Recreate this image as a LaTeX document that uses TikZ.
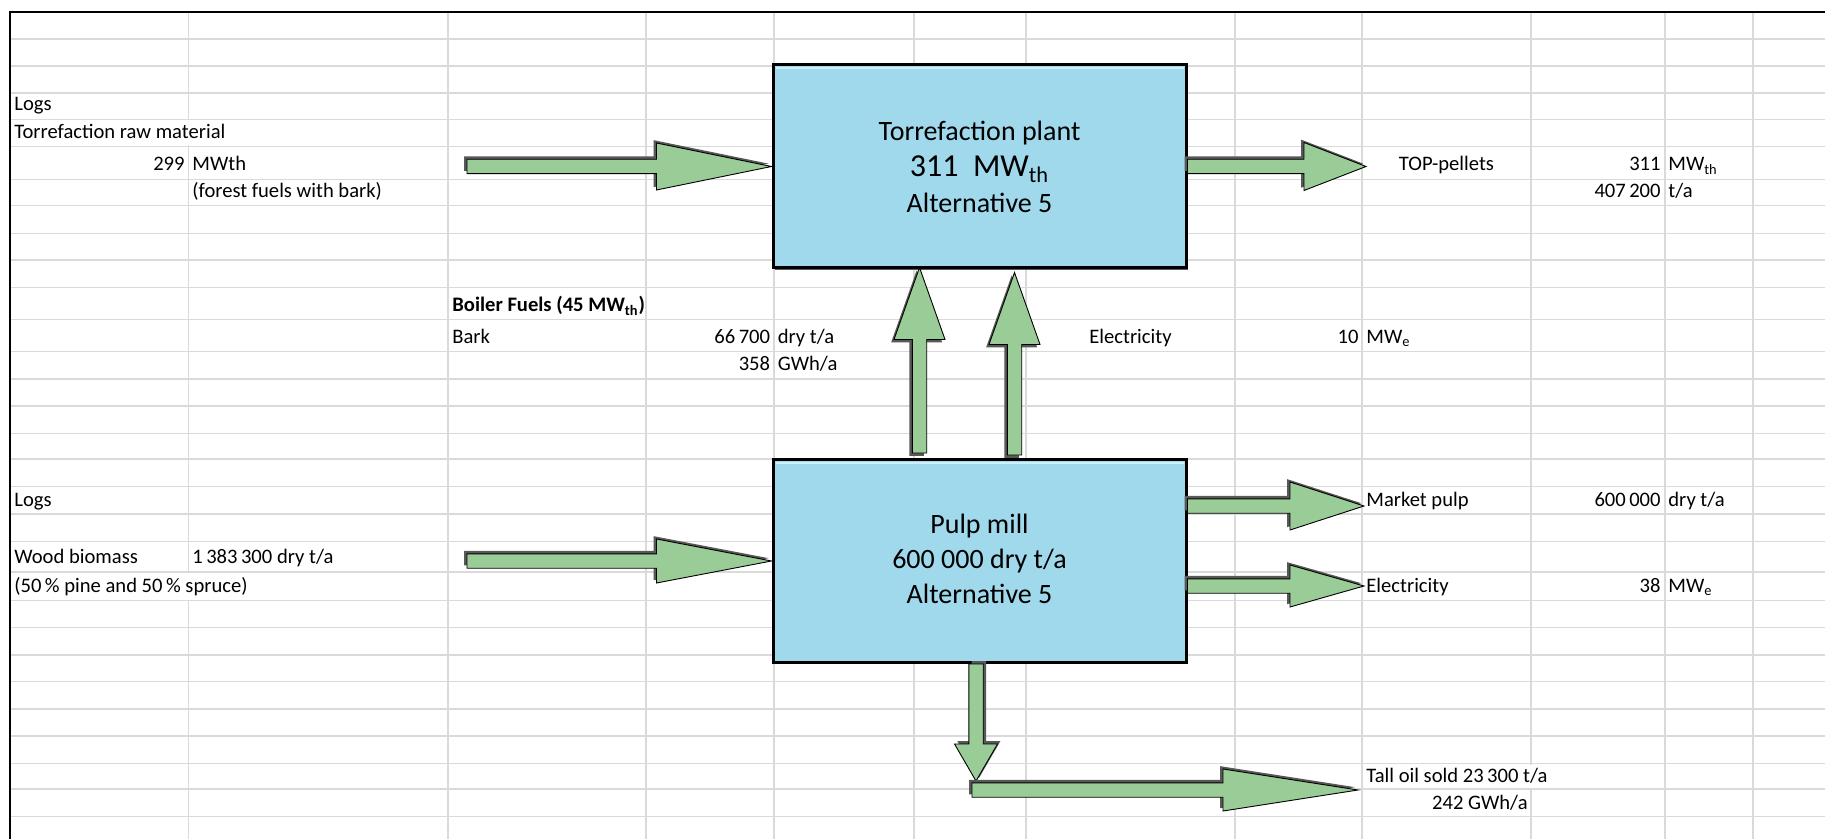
\documentclass[tikz,border=0pt]{standalone}
\usepackage{fontspec}
\setmainfont{Carlito}
\usepackage{tikz}
\usetikzlibrary{calc,positioning,shadows}
\definecolor{gridgray}{RGB}{218,218,218}
\definecolor{boxblue}{RGB}{160,217,235}
\definecolor{boxlight}{RGB}{205,240,250}
\definecolor{flowgreen}{RGB}{153,204,150}
\definecolor{shadowgray}{RGB}{88,88,88}
\newcommand{\cellsize}{\fontsize{10.3}{12}\selectfont}
\newcommand{\boxsize}{\fontsize{14}{17}\selectfont}
\newcommand{\bigboxsize}{\fontsize{16}{19}\selectfont}
\newcommand{\shaftw}{3.6pt}
\tikzset{
  plant/.style      ={draw,line width=1.5pt,fill=boxblue,minimum width=206.5pt,minimum height=101.5pt,
                      drop shadow={shadow xshift=0.8pt,shadow yshift=-0.8pt,fill=shadowgray,opacity=1}},
  planttext/.style  ={inner sep=0pt,anchor=base,font=\boxsize},
  plantedge/.style  ={draw=boxlight,line width=1pt},
  celltext/.style   ={inner sep=0pt,anchor=base west,font=\cellsize},
  cellnum/.style    ={inner sep=0pt,anchor=base east,font=\cellsize},
  cellmid/.style    ={inner sep=0pt,anchor=base,font=\cellsize},
  flowarrow/.style  ={draw=black,line width=0.45pt,fill=flowgreen,line join=miter},
  flowshadow/.style ={fill=shadowgray},
  gridline/.style   ={draw=gridgray,line width=0.7pt},
  sheetborder/.style={draw=black,line width=1pt}
}
\newcommand{\blockarrow}[4]{%
  \coordinate (sht) at ($(#1)!2pt!135:(#2)$);
  \coordinate (shp) at ($(#2)!2pt!-45:(#1)$);
  \coordinate (shh) at ($(shp)!#3!(sht)$);
  \fill[flowshadow] ($(sht)!\shaftw!90:(shp)$) -- ($(shh)!\shaftw!90:(shp)$) -- ($(shh)!#4!90:(shp)$) -- (shp)
    -- ($(shh)!#4!-90:(shp)$) -- ($(shh)!\shaftw!-90:(shp)$) -- ($(sht)!\shaftw!-90:(shp)$) -- cycle;
  \coordinate (hdb) at ($(#2)!#3!(#1)$);
  \filldraw[flowarrow] ($(#1)!\shaftw!90:(#2)$) -- ($(hdb)!\shaftw!90:(#2)$) -- ($(hdb)!#4!90:(#2)$) -- (#2)
    -- ($(hdb)!#4!-90:(#2)$) -- ($(hdb)!\shaftw!-90:(#2)$) -- ($(#1)!\shaftw!-90:(#2)$) -- cycle;
}

\begin{document}
\begin{tikzpicture}[x=0.5pt,y=-0.5pt]
    \useasboundingbox (0,0) rectangle (1825,839);
    \fill[white] (0,0) rectangle (1825,839);
    \foreach \gy in {39,66,93,119.3,146.7,179.3,205.7,233.3,260,287.3,319.3,351.7,379,406,433.3,459,
                     486.7,514,541.7,572,600.7,627.7,655,681.7,709,736,763.3,789,816.7}
      \draw[gridline] (9.8,\gy) -- (1825,\gy);
    \foreach \gx in {188.4,448,646,774,914,1026,1235,1362,1531,1665,1753}
      \draw[gridline] (\gx,11.7) -- (\gx,839);
    \foreach \gx/\ga/\gb in {188.4/119.3/146.7,188.4/572/600.7,1531/763.3/789}
      \draw[white,line width=1.2pt] ({\gx},{\ga+1.2}) -- ({\gx},{\gb-1.2});
    \draw[sheetborder] (9.8,839) -- (9.8,11.7) -- (1825,11.7);

    \node[plant] (torr) at (979.5,166.5) {};
    \node[plant] (pulp) at (979.5,561) {};
    \draw[plantedge] ($(torr.north west)+(4,4.5)$) -- ($(torr.north east)+(-4,4.5)$);
    \draw[plantedge] ($(pulp.north west)+(4,4.5)$) -- ($(pulp.north east)+(-4,4.5)$);
    \node[planttext]                  (torrname)  at ($(torr.center)+(0,-26)$) {Torrefaction plant};
    \node[planttext,font=\bigboxsize] (torrpower) at ($(torr.center)+(0,10.5)$) {311~~MW\textsubscript{th}};
    \node[planttext]                  (torralt)   at ($(torr.center)+(0,46.5)$) {Alternative 5};
    \node[planttext]                  (pulpname)  at ($(pulp.center)+(0,-28)$) {Pulp mill};
    \node[planttext]                  (pulpcap)   at ($(pulp.center)+(0,7)$)   {600 000 dry t/a};
    \node[planttext]                  (pulpalt)   at ($(pulp.center)+(0,42)$)  {Alternative 5};

    \node[celltext] (logsraw)   at (14,111)    {Logs};
    \node[celltext] (rawname)   at (14,139)    {Torrefaction raw material};
    \node[cellnum]  (rawpower)  at (185,171)   {299};
    \node[celltext] (rawunit)   at (192,171)   {MWth};
    \node[celltext] (rawnote)   at (192,197.5) {(forest fuels with bark)};
    \node[celltext,font=\cellsize\bfseries] (boiler) at (452,312) {Boiler Fuels (45 MW\textsubscript{th})};
    \node[celltext] (bark)      at (452,343.5) {Bark};
    \node[cellnum]  (barkmass)  at (770.5,343.5) {66\,700};
    \node[celltext] (barkmunit) at (777.5,343.5) {dry t/a};
    \node[cellnum]  (barkgwh)   at (770.5,371)   {358};
    \node[celltext] (barkgunit) at (777.5,371)   {GWh/a};
    \node[cellmid]  (elecin)    at (1130.5,343.5) {Electricity};
    \node[cellnum]  (elecinval) at (1359,343.5) {10};
    \node[celltext] (elecinunit) at (1366,343.5) {MW\textsubscript{e}};
    \node[cellmid]  (pellets)   at (1446.5,171) {TOP-pellets};
    \node[cellnum]  (pelletpow) at (1661,171)  {311};
    \node[celltext] (pelletpu)  at (1668,171)  {MW\textsubscript{th}};
    \node[cellnum]  (pelletmass) at (1661,197.5) {407\,200};
    \node[celltext] (pelletmu)  at (1668,197.5) {t/a};
    \node[celltext] (logswood)  at (14,506)    {Logs};
    \node[celltext] (woodname)  at (14,563.5)  {Wood biomass};
    \node[celltext] (woodmass)  at (192,563.5) {1\,383\,300 dry t/a};
    \node[celltext] (woodnote)  at (14,592)    {(50\,\% pine and 50\,\% spruce)};
    \node[celltext] (market)    at (1366,506)  {Market pulp};
    \node[cellnum]  (marketval) at (1661,506)  {600\,000};
    \node[celltext] (marketunit) at (1668,506) {dry t/a};
    \node[celltext] (elecout)   at (1366,592)  {Electricity};
    \node[cellnum]  (elecoutval) at (1661,592) {38};
    \node[celltext] (elecoutunit) at (1668,592) {MW\textsubscript{e}};
    \node[celltext] (talloil)   at (1366,782)  {Tall oil sold 23\,300 t/a};
    \node[cellnum]  (talloilgwh) at (1528,809) {242 GWh/a};

    \coordinate (rawtail)     at (467,166.5);
    \coordinate (pellettip)   at (1366,166.5);
    \coordinate (woodtail)    at (467,561);
    \coordinate (markettail)  at ($(pulp.east)+(0,-55)$);
    \coordinate (markettip)   at (1364,506);
    \coordinate (electail)    at ($(pulp.east)+(0,25)$);
    \coordinate (electip)     at (1364,586);
    \coordinate (barktail)    at ($(pulp.north)+(-60,-5)$);
    \coordinate (barktip)     at ($(torr.south)+(-60,-2)$);
    \coordinate (powertail)   at ($(pulp.north)+(35,-3)$);
    \coordinate (powertip)    at ($(torr.south)+(35,3)$);
    \coordinate (oildown)     at ($(pulp.south)+(-3.5,117)$);
    \coordinate (oiltail)     at (972,790);
    \coordinate (oiltip)      at (1358,790);
    \blockarrow{rawtail}{torr.west}{57.5pt}{11.75pt}
    \blockarrow{torr.east}{pellettip}{31pt}{12pt}
    \blockarrow{woodtail}{pulp.west}{57.5pt}{11pt}
    \blockarrow{markettail}{markettip}{37pt}{12pt}
    \blockarrow{electail}{electip}{37pt}{10.5pt}
    \blockarrow{barktail}{barktip}{36pt}{12.75pt}
    \blockarrow{powertail}{powertip}{36pt}{12.75pt}
    \blockarrow{$(pulp.south)+(-3.5,0)$}{oildown}{18.5pt}{10.75pt}
    \blockarrow{oiltail}{oiltip}{67.5pt}{10.5pt}
  \end{tikzpicture}
\end{document}
